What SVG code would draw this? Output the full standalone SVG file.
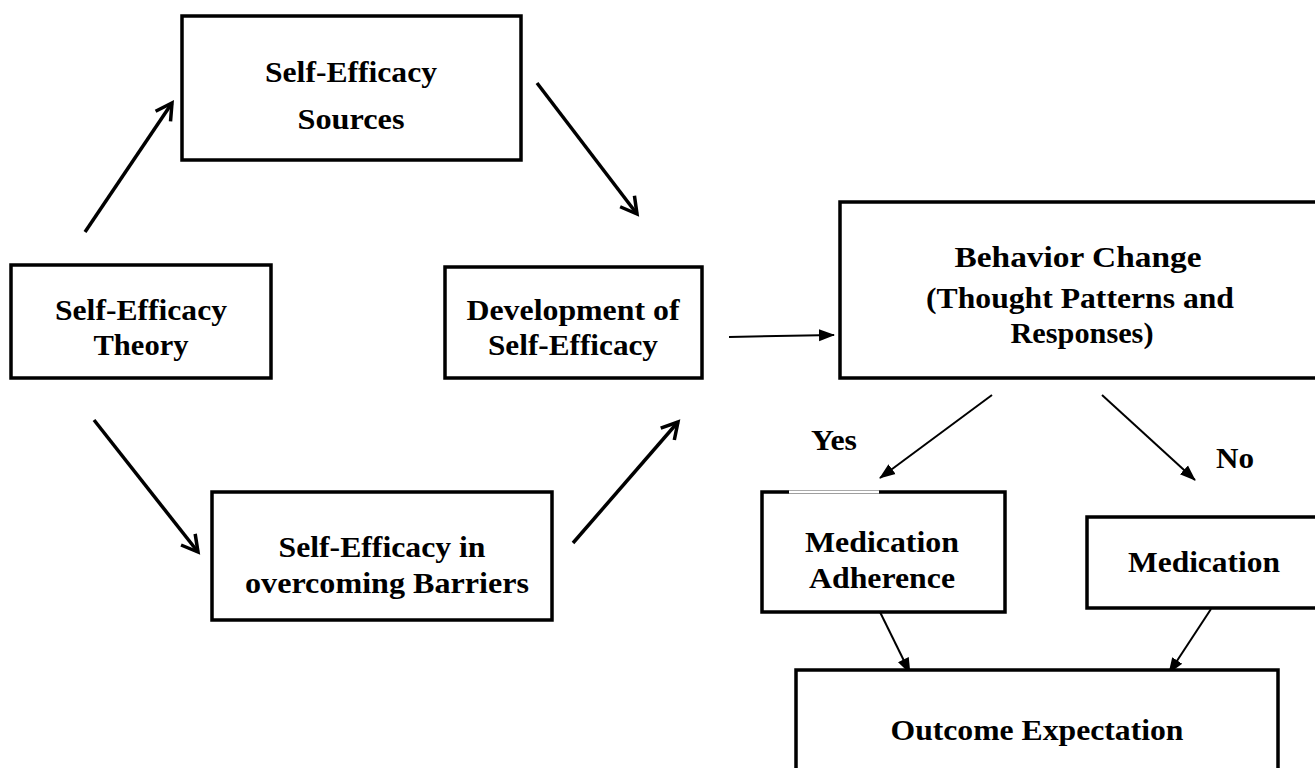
<svg xmlns="http://www.w3.org/2000/svg" width="1315" height="768" viewBox="0 0 1315 768">
<defs>
<style>
.box{fill:#fff;stroke:#000;stroke-width:3.5}
.t{font-family:"Liberation Serif","Times New Roman",serif;font-weight:bold;font-size:29px;fill:#000;text-anchor:middle}
.a1{stroke:#000;stroke-width:3.5;fill:none;marker-end:url(#open)}
.a2{stroke:#000;stroke-width:2;fill:none;marker-end:url(#fill)}
</style>
<marker id="open" viewBox="0 0 24 24" refX="20" refY="12" markerWidth="24" markerHeight="24" markerUnits="userSpaceOnUse" orient="auto">
<polyline points="4,3 20,12 4,21" fill="none" stroke="#000" stroke-width="3.5"/>
</marker>
<marker id="fill" viewBox="0 0 16 16" refX="15" refY="8" markerWidth="16" markerHeight="16" markerUnits="userSpaceOnUse" orient="auto">
<path d="M0,2 L16,8 L0,14 Z" fill="#000"/>
</marker>
</defs>
<rect width="1315" height="768" fill="#fff"/>
<g id="connectors">
<line class="a1" x1="85" y1="232" x2="172" y2="103"/>
<line class="a1" x1="537" y1="83" x2="637" y2="214"/>
<line class="a1" x1="94" y1="420" x2="198" y2="552"/>
<line class="a1" x1="573" y1="543" x2="678" y2="422"/>
<line class="a2" x1="729" y1="337" x2="834" y2="335"/>
<line class="a2" x1="992" y1="395" x2="880" y2="478"/>
<line class="a2" x1="1102" y1="395" x2="1195" y2="480"/>
<line class="a2" x1="879" y1="610" x2="910" y2="673"/>
<line class="a2" x1="1211" y1="609" x2="1169" y2="673"/>
</g>
<g id="sources">
<rect class="box" x="182" y="16" width="339" height="144"/>
<text class="t" x="351" y="82" textLength="172" lengthAdjust="spacingAndGlyphs">Self-Efficacy</text>
<text class="t" x="351" y="129" textLength="107" lengthAdjust="spacingAndGlyphs">Sources</text>
</g>
<g id="theory">
<rect class="box" x="11" y="265" width="260" height="113"/>
<text class="t" x="141" y="320" textLength="172" lengthAdjust="spacingAndGlyphs">Self-Efficacy</text>
<text class="t" x="141" y="355" textLength="95" lengthAdjust="spacingAndGlyphs">Theory</text>
</g>
<g id="development">
<rect class="box" x="445" y="267" width="257" height="111"/>
<text class="t" x="573" y="320" textLength="213" lengthAdjust="spacingAndGlyphs">Development of</text>
<text class="t" x="573" y="355" textLength="170" lengthAdjust="spacingAndGlyphs">Self-Efficacy</text>
</g>
<g id="behavior">
<rect class="box" x="840" y="202" width="482" height="176"/>
<text class="t" x="1078" y="267" textLength="247" lengthAdjust="spacingAndGlyphs">Behavior Change</text>
<text class="t" x="1080" y="308" textLength="308" lengthAdjust="spacingAndGlyphs">(Thought Patterns and</text>
<text class="t" x="1082" y="343" textLength="143" lengthAdjust="spacingAndGlyphs">Responses)</text>
</g>
<g id="barriers">
<rect class="box" x="212" y="492" width="340" height="128"/>
<text class="t" x="382" y="557" textLength="207" lengthAdjust="spacingAndGlyphs">Self-Efficacy in</text>
<text class="t" x="387" y="593" textLength="284" lengthAdjust="spacingAndGlyphs">overcoming Barriers</text>
</g>
<g id="adherence">
<rect class="box" x="762" y="492" width="243" height="120"/>
<line x1="789" y1="492" x2="879" y2="492" stroke="#fff" stroke-width="3"/>
<line x1="789" y1="490.5" x2="879" y2="490.5" stroke="#aaa" stroke-width="1"/>
<text class="t" x="882" y="552" textLength="154" lengthAdjust="spacingAndGlyphs">Medication</text>
<text class="t" x="882" y="588" textLength="146" lengthAdjust="spacingAndGlyphs">Adherence</text>
</g>
<g id="medication">
<rect class="box" x="1087" y="517" width="235" height="91"/>
<text class="t" x="1204" y="572" textLength="152" lengthAdjust="spacingAndGlyphs">Medication</text>
</g>
<g id="outcome">
<rect class="box" x="796" y="670" width="482" height="120"/>
<text class="t" x="1037" y="740" textLength="293" lengthAdjust="spacingAndGlyphs">Outcome Expectation</text>
</g>
<g id="labels">
<text class="t" x="834" y="450" textLength="46" lengthAdjust="spacingAndGlyphs">Yes</text>
<text class="t" x="1235" y="468" textLength="38" lengthAdjust="spacingAndGlyphs">No</text>
</g>
</svg>
